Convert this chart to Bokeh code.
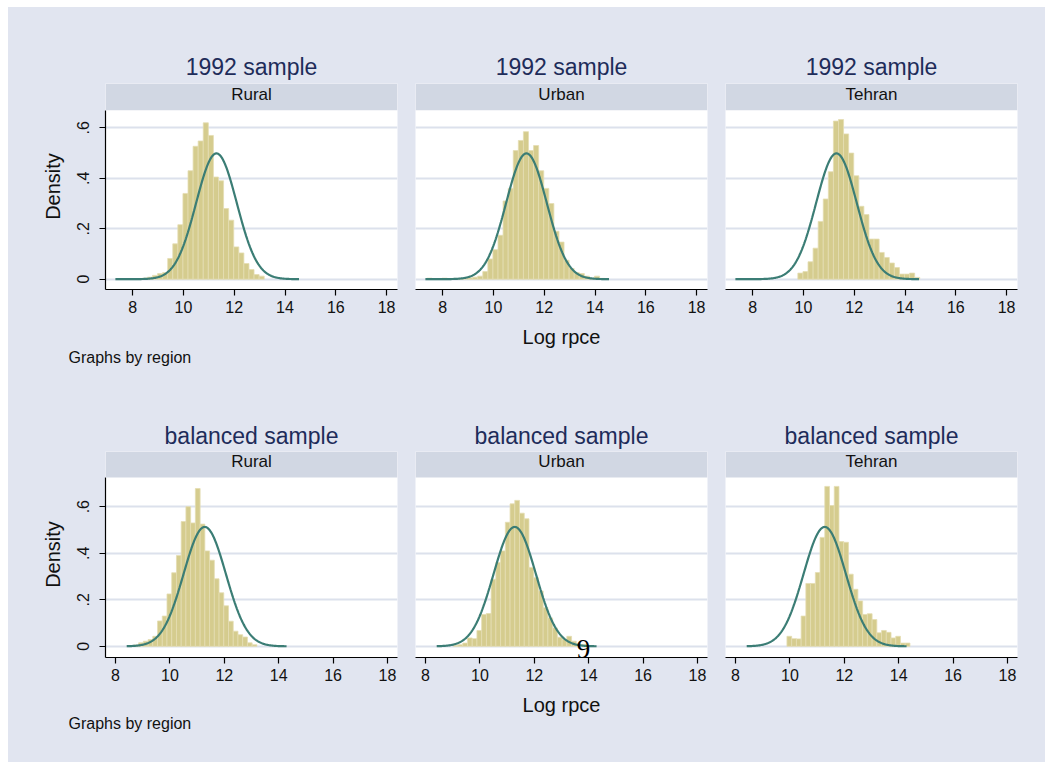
import numpy as np
from bokeh.plotting import figure
from bokeh.models import Range1d, FixedTicker, BoxAnnotation, Label, Title, CustomJSTickFormatter, Spacer
from bokeh.layouts import column, row
from bokeh.embed import file_html
from bokeh.resources import INLINE

# ---------------- data ----------------
regions = ["Rural", "Urban", "Tehran"]
sample_titles = ["1992 sample", "balanced sample"]
x_tick_values = [8, 10, 12, 14, 16, 18]
y_tick_values = [0, 0.2, 0.4, 0.6]
x_title = "Log rpce"
y_title = "Density"
note_text = "Graphs by region"

# 1992 sample: histogram densities (bin width 0.2)
bin_width_1992 = 0.2
bin_start_1992 = [8.38, 7.38, 9.78]
density_1992_rural = [0.004, 0.008, 0.015, 0.022, 0.026, 0.082, 0.14, 0.216, 0.34, 0.43,
                      0.527, 0.548, 0.62, 0.57, 0.405, 0.39, 0.28, 0.234, 0.128, 0.104,
                      0.062, 0.038, 0.018, 0.012]
density_1992_urban = [0.004, 0.0, 0.0, 0.004, 0.0, 0.003, 0.003, 0.004, 0.005, 0.008,
                      0.012, 0.03, 0.08, 0.117, 0.174, 0.31, 0.36, 0.51, 0.55, 0.585,
                      0.51, 0.53, 0.43, 0.36, 0.30, 0.19, 0.147, 0.075, 0.042, 0.026,
                      0.022, 0.012, 0.004, 0.012, 0.003]
density_1992_tehran = [0.024, 0.03, 0.069, 0.123, 0.229, 0.318, 0.426, 0.627, 0.633, 0.576,
                       0.50, 0.41, 0.289, 0.256, 0.159, 0.159, 0.106, 0.086, 0.064, 0.046,
                       0.02, 0.02, 0.024, 0.007]
normal_mean_1992 = 11.30
normal_sd_1992 = 0.80
normal_span_1992 = [7.32, 14.55]

# balanced sample: histogram densities (bin width 0.174)
bin_width_bal = 0.174
bin_start_bal = [8.50, 9.02, 9.89]
density_bal_rural = [0.003, 0.006, 0.015, 0.022, 0.029, 0.043, 0.109, 0.13, 0.225, 0.316,
                     0.39, 0.536, 0.60, 0.53, 0.678, 0.525, 0.41, 0.37, 0.29, 0.23,
                     0.174, 0.108, 0.065, 0.05, 0.04, 0.015, 0.007]
density_bal_urban = [0.004, 0.007, 0.014, 0.036, 0.033, 0.068, 0.137, 0.141, 0.288, 0.36,
                     0.41, 0.533, 0.612, 0.627, 0.572, 0.548, 0.339, 0.295, 0.238, 0.166,
                     0.122, 0.079, 0.039, 0.029, 0.043, 0.022, 0.01, 0.007]
density_bal_tehran = [0.043, 0.033, 0.032, 0.13, 0.27, 0.27, 0.317, 0.468, 0.687, 0.605,
                      0.687, 0.45, 0.447, 0.31, 0.245, 0.195, 0.137, 0.14, 0.115, 0.058,
                      0.068, 0.06, 0.036, 0.043, 0.014, 0.014]
normal_mean_bal = 11.28
normal_sd_bal = 0.778
normal_span_bal = [8.41, 14.29]

page_number = "9"

# ---------------- styling / layout ----------------
BG = "#E1E5F0"
STRIP = "#D1D7E3"
GRID = "#DCE1EC"
BAR = "#D5CC8E"
BAR_LINE = "#E4DDB2"
CURVE = "#3B7D75"
TITLE_C = "#1E2C5A"
TXT = "#111111"
FONT = "Liberation Sans"

rows_cfg = [
    dict(sample=0, dens=[density_1992_rural, density_1992_urban, density_1992_tehran],
         starts=bin_start_1992, bw=bin_width_1992, mean=normal_mean_1992, sd=normal_sd_1992,
         span=normal_span_1992, xr=(6.93, 18.43), yr=(-0.041, 0.776), strip=0.670,
         height=398, top=76, bottom=116, title_standoff=8, note_standoff=63),
    dict(sample=1, dens=[density_bal_rural, density_bal_urban, density_bal_tehran],
         starts=bin_start_bal, bw=bin_width_bal, mean=normal_mean_bal, sd=normal_sd_bal,
         span=normal_span_bal, xr=(7.63, 18.37), yr=(-0.048, 0.837), strip=0.7256,
         height=357, top=46, bottom=105, title_standoff=6, note_standoff=58),
]

y_fmt = CustomJSTickFormatter(code="""
if (tick == 0) { return '0'; }
return tick.toFixed(1).replace(/^0/, '');
""")


def make_panel(cfg, col):
    left = 97 if col == 0 else 9
    right = 28 if col == 2 else 9
    p = figure(width=left + 292 + right, height=cfg["height"],
               x_range=Range1d(*cfg["xr"]), y_range=Range1d(*cfg["yr"]),
               output_backend="svg", toolbar_location=None,
               min_border_left=left, min_border_right=right,
               min_border_top=cfg["top"], min_border_bottom=cfg["bottom"],
               y_axis_location="left" if col == 0 else None,
               title=sample_titles[cfg["sample"]])
    p.border_fill_color = BG
    p.background_fill_color = "white"
    p.outline_line_color = None
    p.styles = {"background-color": BG}

    p.title.align = "center"
    p.title.text_font = FONT
    p.title.text_font_size = "23px"
    p.title.text_font_style = "normal"
    p.title.text_color = TITLE_C
    p.title.standoff = cfg["title_standoff"]

    for g in p.xgrid:
        g.visible = False
    for g in p.ygrid:
        g.ticker = FixedTicker(ticks=y_tick_values)
        g.grid_line_color = GRID
        g.grid_line_width = 2

    # strip with region name
    p.add_layout(BoxAnnotation(bottom=cfg["strip"], fill_color=STRIP, fill_alpha=1,
                               line_color=None))
    xr, yr = cfg["xr"], cfg["yr"]
    p.add_layout(Label(x=(xr[0] + xr[1]) / 2, y=cfg["strip"] + (yr[1] - cfg["strip"]) * 0.6,
                       text=regions[col], text_align="center", text_baseline="middle",
                       text_font=FONT, text_font_size="17px", text_color=TXT))

    # histogram
    dens = cfg["dens"][col]
    lefts, rights, tops = [], [], []
    for i, d in enumerate(dens):
        if d > 0:
            l = cfg["starts"][col] + i * cfg["bw"]
            lefts.append(l)
            rights.append(l + cfg["bw"])
            tops.append(d)
    p.quad(left=lefts, right=rights, bottom=0, top=tops, fill_color=BAR,
           line_color=BAR_LINE, line_width=0.8)

    # normal density overlay
    xs = np.linspace(cfg["span"][0], cfg["span"][1], 300)
    ys = np.exp(-0.5 * ((xs - cfg["mean"]) / cfg["sd"]) ** 2) / (cfg["sd"] * np.sqrt(2 * np.pi))
    p.line(xs, ys, line_color=CURVE, line_width=2.2)

    ax = p.xaxis[0]
    ax.ticker = FixedTicker(ticks=x_tick_values)
    ax.major_tick_out = 6
    ax.major_tick_in = 0
    ax.minor_tick_line_color = None
    ax.axis_line_color = "black"
    ax.axis_line_width = 1.2
    ax.major_tick_line_color = "black"
    ax.major_tick_line_width = 1.2
    ax.major_label_text_font = FONT
    ax.major_label_text_font_size = "16px"
    ax.major_label_text_color = TXT
    ax.major_label_standoff = 5
    if col == 1:
        ax.axis_label = x_title
        ax.axis_label_text_font = FONT
        ax.axis_label_text_font_size = "20px"
        ax.axis_label_text_font_style = "normal"
        ax.axis_label_text_color = TXT
        ax.axis_label_standoff = 10

    if col == 0:
        ay = p.yaxis[0]
        ay.ticker = FixedTicker(ticks=y_tick_values)
        ay.formatter = y_fmt
        ay.bounds = (yr[0], cfg["strip"])
        ay.major_tick_out = 6
        ay.major_tick_in = 0
        ay.minor_tick_line_color = None
        ay.axis_line_color = "black"
        ay.axis_line_width = 1.2
        ay.major_tick_line_color = "black"
        ay.major_tick_line_width = 1.2
        ay.major_label_orientation = "vertical"
        ay.major_label_text_font = FONT
        ay.major_label_text_font_size = "16px"
        ay.major_label_text_color = TXT
        ay.major_label_standoff = 10
        ay.axis_label = y_title
        ay.axis_label_text_font = FONT
        ay.axis_label_text_font_size = "20px"
        ay.axis_label_text_font_style = "normal"
        ay.axis_label_text_color = TXT
        ay.axis_label_standoff = 11

        # "Graphs by region" note below the panel
        p.add_layout(Title(text=note_text, align="left", offset=-37,
                           standoff=cfg["note_standoff"],
                           text_font=FONT, text_font_size="16px", text_font_style="normal",
                           text_color=TXT), "below")

    if cfg["sample"] == 1 and col == 1:
        p.add_layout(Label(x=13.81, y=-0.01, text=page_number, text_align="center",
                           text_baseline="middle", text_font="Liberation Serif",
                           text_font_size="27px", text_color="#000000"))
    return p


rows = []
for cfg in rows_cfg:
    rows.append(row(*[make_panel(cfg, c) for c in range(3)], spacing=0,
                    width=1037, height=cfg["height"],
                    styles={"background-color": BG}))
content = column(*rows, spacing=0, width=1037, height=755,
                 styles={"background-color": BG})
layout = row(Spacer(width=8, height=762),
             column(Spacer(width=1037, height=7), content, spacing=0, width=1037, height=762),
             spacing=0, width=1045, height=762)

open("out.html", "w").write(file_html(layout, INLINE))
